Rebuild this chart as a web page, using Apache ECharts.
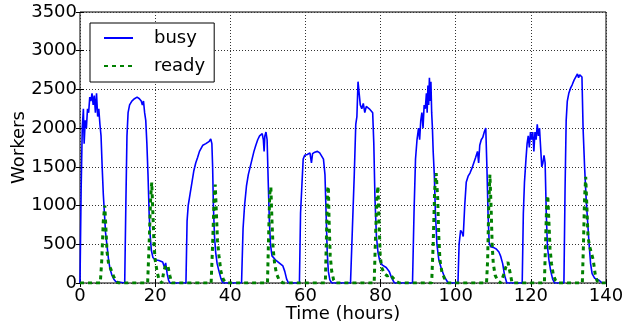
<!DOCTYPE html>
<html>
<head>
<meta charset="utf-8">
<script src="https://cdn.jsdelivr.net/npm/echarts@6/dist/echarts.min.js"></script>
<style>
  html, body { margin: 0; padding: 0; background: #fff; }
  #chart { width: 629px; height: 323px; }
</style>
</head>
<body>
<div id="chart"></div>
<script>
// values: [hours, workers]
const busyPoints = [
  [0, 0], [0.3, 1200], [0.6, 2000], [0.9, 2250], [1.1, 1800], [1.4, 2100], [1.7, 2000], [2.0, 2250],
  [2.3, 2200], [2.6, 2400], [2.9, 2350], [3.2, 2450], [3.5, 2300], [3.8, 2420], [4.1, 2200], [4.4, 2450],
  [4.7, 2150], [5.0, 2250], [5.3, 2050], [5.6, 1900], [5.9, 1500], [6.2, 1150], [6.5, 900], [6.8, 650],
  [7.2, 480], [7.6, 300], [8.0, 180], [8.5, 100], [9, 50], [9.5, 20], [10, 0],
  [11.9, 0], [12.2, 1000], [12.5, 1900], [12.8, 2200], [13.2, 2300], [13.8, 2350], [14.5, 2380], [15.2, 2400],
  [15.8, 2380], [16.3, 2350], [16.6, 2300], [16.9, 2350], [17.2, 2200], [17.5, 2100], [17.8, 1800], [18.1, 1400],
  [18.4, 900], [18.7, 600], [19.0, 420], [19.4, 330], [20, 300], [21, 290], [22, 270], [22.5, 200],
  [22.8, 260], [23.2, 120], [23.6, 30], [24, 0],
  [28.2, 0], [28.5, 800], [28.8, 1000], [29.3, 1150], [29.8, 1300], [30.3, 1450], [30.8, 1550], [31.3, 1620],
  [31.8, 1700], [32.3, 1720], [32.7, 1780], [33.1, 1760], [33.5, 1800], [34, 1790], [34.4, 1830], [34.8, 1860],
  [35.1, 1800], [35.3, 1500], [35.5, 1000], [35.8, 600], [36.1, 400], [36.5, 250], [37, 150], [37.5, 60], [38, 0],
  [43.0, 0], [43.4, 700], [43.8, 1000], [44.3, 1250], [44.8, 1400], [45.3, 1500], [45.8, 1600], [46.3, 1700],
  [46.8, 1780], [47.3, 1850], [47.8, 1900], [48.2, 1880], [48.5, 1930], [48.8, 1850], [49.0, 1700], [49.2, 1900],
  [49.5, 1950], [49.8, 1850], [50.1, 1300], [50.4, 800], [50.7, 500], [51.1, 350], [52, 300], [53, 260],
  [54, 220], [54.5, 150], [55, 50], [55.5, 0],
  [58.4, 0], [58.7, 900], [59.0, 1200], [59.4, 1600], [59.8, 1650], [60.5, 1660], [61.2, 1680], [61.6, 1550],
  [61.9, 1670], [62.5, 1690], [63.2, 1700], [63.8, 1680], [64.3, 1660], [64.8, 1600], [65.2, 1400], [65.5, 900],
  [65.8, 400], [66.1, 150], [66.5, 40], [67, 0],
  [72.0, 0], [72.5, 700], [73.0, 1400], [73.4, 2050], [73.7, 2150], [74.0, 2600], [74.3, 2450], [74.6, 2300],
  [75.0, 2250], [75.4, 2320], [75.8, 2200], [76.2, 2280], [76.6, 2300], [77.0, 2250], [77.5, 2230], [77.9, 2200],
  [78.2, 1800], [78.5, 1100], [78.9, 600], [79.3, 400], [79.8, 280], [80.5, 230], [81.5, 200], [82.3, 150],
  [83, 60], [83.7, 0],
  [88.5, 0], [88.9, 900], [89.3, 1600], [89.7, 1850], [90.1, 2000], [90.4, 1850], [90.7, 2100], [91.0, 2200],
  [91.3, 2000], [91.6, 2300], [91.9, 2250], [92.2, 2450], [92.4, 2200], [92.6, 2550], [92.8, 2300], [93.0, 2650],
  [93.2, 2350], [93.4, 2600], [93.6, 2200], [93.8, 2000], [94.0, 1700], [94.3, 1400], [94.6, 900], [95.0, 500],
  [95.5, 300], [96.2, 180], [97, 80], [98, 0],
  [100.6, 0], [100.9, 500], [101.3, 680], [101.7, 650], [102.0, 600], [102.4, 1000], [102.8, 1300], [103.3, 1380],
  [103.8, 1420], [104.3, 1480], [104.8, 1550], [105.3, 1620], [105.8, 1700], [106.1, 1550], [106.4, 1780], [106.8, 1850],
  [107.2, 1880], [107.6, 1950], [108.0, 2000], [108.3, 1500], [108.6, 900], [108.9, 520], [109.3, 470], [110, 460],
  [110.8, 440], [111.5, 400], [112, 340], [112.5, 250], [113, 100], [113.6, 0],
  [117.7, 0], [118.0, 900], [118.3, 1300], [118.7, 1600], [119.0, 1800], [119.3, 1900], [119.6, 1750], [119.9, 1950],
  [120.2, 1850], [120.5, 1950], [120.8, 1700], [121.1, 1950], [121.4, 1850], [121.7, 2050], [122.0, 1900], [122.3, 2000],
  [122.6, 1750], [122.9, 1500], [123.2, 1550], [123.5, 1650], [123.8, 1550], [124.1, 900], [124.4, 480], [124.8, 300],
  [125.3, 150], [125.8, 50], [126.3, 0],
  [128.8, 0], [129.1, 1200], [129.4, 2100], [129.7, 2350], [130.1, 2450], [130.6, 2520], [131.0, 2560], [131.5, 2620],
  [132.0, 2640], [132.4, 2700], [132.7, 2650], [133.0, 2690], [133.3, 2680], [133.6, 2660], [133.9, 2000], [134.3, 1500],
  [134.7, 1100], [135.1, 800], [135.5, 500], [135.9, 250], [136.3, 120], [137, 60], [138, 40], [139, 0], [140, 0]
]

const readyPoints = [
  [0, 0],
  [5.4, 0], [5.8, 300], [6.2, 800], [6.6, 1000], [6.9, 700], [7.2, 400], [7.6, 250], [8.2, 180], [8.8, 100],
  [9.5, 30], [10.2, 0],
  [18.0, 0], [18.4, 500], [18.8, 1100], [19.1, 1300], [19.4, 900], [19.7, 500], [20.0, 300], [20.5, 150],
  [21, 50], [21.8, 0], [22.3, 150], [22.8, 230], [23.4, 220], [23.9, 100], [24.4, 0],
  [34.9, 0], [35.3, 500], [35.7, 1100], [36.0, 1270], [36.3, 900], [36.6, 550], [37.0, 350], [37.5, 150],
  [38.2, 40], [39, 0],
  [49.9, 0], [50.2, 600], [50.5, 1150], [50.8, 1240], [51.1, 800], [51.4, 450], [51.8, 250], [52.3, 120],
  [53, 40], [54, 0],
  [65.3, 0], [65.6, 600], [65.9, 1200], [66.1, 1250], [66.3, 800], [66.6, 350], [67.0, 150], [67.5, 40], [68, 0],
  [78.3, 0], [78.6, 500], [79.0, 1100], [79.3, 1250], [79.6, 800], [79.9, 350], [80.3, 200], [81, 120],
  [81.8, 90], [82.6, 110], [83.4, 60], [84.2, 20], [85, 0],
  [93.6, 0], [94.0, 500], [94.4, 1200], [94.8, 1420], [95.2, 1100], [95.5, 600], [95.8, 300], [96.3, 150],
  [97, 60], [98, 0],
  [108.2, 0], [108.5, 300], [108.8, 1000], [109.1, 1400], [109.4, 1000], [109.7, 500], [110.0, 250], [110.5, 100],
  [111.2, 30], [112, 0], [112.7, 100], [113.3, 200], [113.9, 270], [114.4, 150], [115, 0],
  [123.6, 0], [123.9, 500], [124.2, 1000], [124.5, 1130], [124.8, 800], [125.1, 450], [125.5, 250], [126, 100],
  [126.6, 30], [127.2, 0],
  [133.7, 0], [134.0, 500], [134.3, 1100], [134.6, 1370], [134.9, 1000], [135.2, 600], [135.6, 480], [136.1, 460],
  [136.6, 300], [137.1, 120], [137.6, 30], [138.2, 0], [140, 0]
]

const xRange = [0, 140]
const xStep = 20
const yRange = [0, 3500]
const yStep = 500

const font = 'DejaVu Sans'
const gridLine = { lineStyle: { color: '#333', width: 1, type: [1, 2] } }
const tickIn = { show: true, inside: true, length: 4, lineStyle: { color: '#000' } }
const plain = (v) => String(v)

const chart = echarts.init(document.getElementById('chart'), null, { renderer: 'canvas' })

chart.setOption({
  animation: false,
  grid: {
    left: 80, right: 23, top: 12, bottom: 40,
    containLabel: false,
    outerBoundsMode: 'none',
    show: true, borderColor: '#000', borderWidth: 1,
  },
  legend: {
    left: 90,
    top: 23,
    orient: 'vertical',
    backgroundColor: '#fff',
    borderColor: '#000',
    borderWidth: 1,
    borderRadius: 0,
    padding: [6, 9, 7, 13],
    itemWidth: 29,
    itemHeight: 20,
    itemGap: 10,
    itemStyle: { opacity: 0 },
    textStyle: { fontFamily: font, fontSize: 18, color: '#000', padding: [0, 0, 0, 16] },
    data: ['busy', 'ready'],
  },
  xAxis: [
    {
      type: 'value',
      min: xRange[0],
      max: xRange[1],
      interval: xStep,
      name: 'Time (hours)',
      nameLocation: 'middle',
      nameGap: 22,
      nameMoveOverlap: false,
      nameTextStyle: { fontFamily: font, fontSize: 18, color: '#000' },
      axisLine: { show: false },
      axisTick: tickIn,
      axisLabel: { fontFamily: font, fontSize: 18, color: '#000', margin: 4, formatter: plain },
      splitLine: gridLine,
    },
    {
      type: 'value',
      position: 'top',
      min: xRange[0],
      max: xRange[1],
      interval: xStep,
      axisLine: { show: false },
      axisTick: tickIn,
      axisLabel: { show: false },
      splitLine: { show: false },
    },
  ],
  yAxis: [
    {
      type: 'value',
      min: yRange[0],
      max: yRange[1],
      interval: yStep,
      name: 'Workers',
      nameLocation: 'middle',
      nameGap: 52,
      nameMoveOverlap: false,
      nameTextStyle: { fontFamily: font, fontSize: 18, color: '#000' },
      axisLine: { show: false },
      axisTick: tickIn,
      axisLabel: { fontFamily: font, fontSize: 18, color: '#000', margin: 3, formatter: plain },
      splitLine: gridLine,
    },
    {
      type: 'value',
      position: 'right',
      min: yRange[0],
      max: yRange[1],
      interval: yStep,
      axisLine: { show: false },
      axisTick: tickIn,
      axisLabel: { show: false },
      splitLine: { show: false },
    },
  ],
  series: [
    {
      name: 'busy',
      type: 'line',
      data: busyPoints,
      symbol: 'none',
      color: '#0000ff',
      lineStyle: { color: '#0000ff', width: 1.6 },
      z: 2,
    },
    {
      name: 'ready',
      type: 'line',
      data: readyPoints,
      symbol: 'none',
      color: '#008000',
      lineStyle: { color: '#008000', width: 3, type: [4, 4] },
      z: 3,
    },
  ],
})
</script>
</body>
</html>
